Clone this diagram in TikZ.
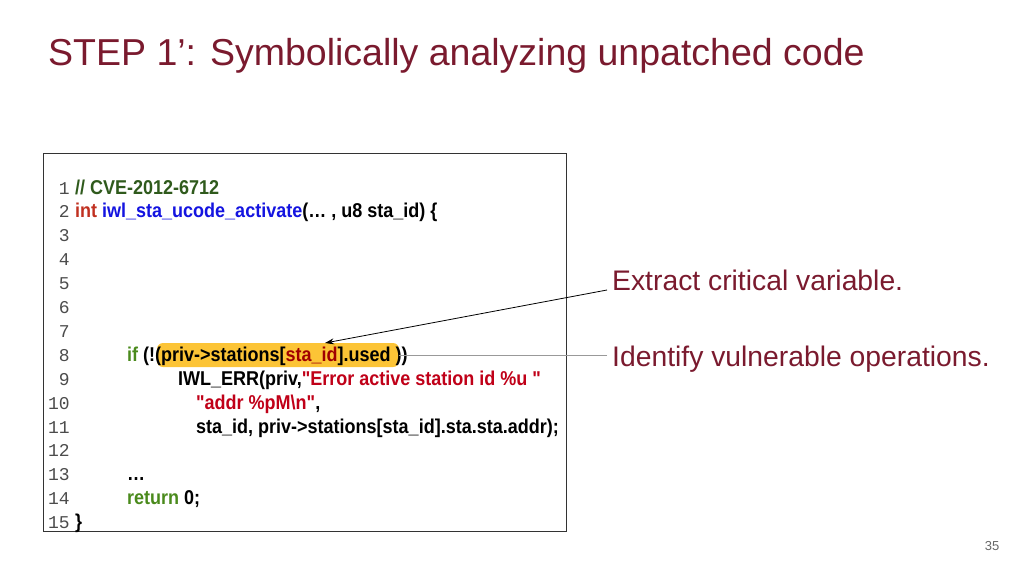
\documentclass[tikz,border=0pt]{standalone}
\usepackage{fontspec}
\usetikzlibrary{arrows.meta}
\setmainfont{Liberation Sans}
\newfontfamily\codefont[FakeStretch=0.9]{Liberation Sans Bold}
\newfontfamily\numfont{Liberation Mono}
\definecolor{titlered}{HTML}{7A1A2E}
\definecolor{cmtgreen}{HTML}{2F5A1C}
\definecolor{kwgreen}{HTML}{4A8A1C}
\definecolor{kwred}{HTML}{C03020}
\definecolor{fnblue}{HTML}{1414E0}
\definecolor{strred}{HTML}{C00018}
\definecolor{idred}{HTML}{A00000}
\definecolor{hl}{HTML}{FCC436}
\begin{document}
\begin{tikzpicture}[x=1pt,y=-1pt,
  code/.style={anchor=base west,inner sep=0pt,font=\codefont\fontsize{20}{20}\selectfont},
  num/.style={anchor=base east,inner sep=0pt,font=\numfont\fontsize{18}{18}\selectfont,text=black!70},
  lab/.style={anchor=base west,inner sep=0pt,text=titlered,font=\fontsize{28.3}{28.3}\selectfont}]
\useasboundingbox (0,0) rectangle (1024,576);
\node[anchor=base west,inner sep=0,text=titlered,font=\fontsize{37.5}{37.5}\selectfont] (title) at (48,65) {STEP 1’: Symbolically analyzing unpatched code};
\draw[black!80,line width=0.8pt] (43,153) rectangle (566,531);
\fill[hl,rounded corners=6pt] (157,343) rectangle (399,367);
\foreach \i in {1,...,15}{\node[num] (n\i) at (70,{194+23.9*(\i-1)}) {\i};}
\node[code] (l1) at (75,194) {\textcolor{cmtgreen}{// CVE-2012-6712}};
\node[code] (l2) at (75,217.9) {\textcolor{kwred}{int} \textcolor{fnblue}{iwl\_sta\_ucode\_activate}(\dots\ , u8 sta\_id) \{};
\node[code] (l8) at (127,361.3) {\textcolor{kwgreen}{if} (!(priv->stations[\textcolor{idred}{sta\_id}].used ))};
\node[code] (l9) at (178,385.2) {IWL\_ERR(priv,\textcolor{strred}{"Error active station id \%u "}};
\node[code] (l10) at (196,409.1) {\textcolor{strred}{"addr \%pM\textbackslash n"},};
\node[code] (l11) at (196,433) {sta\_id, priv->stations[sta\_id].sta.sta.addr);};
\node[code] (l13) at (127,480.8) {\dots};
\node[code] (l14) at (127,504.7) {\textcolor{kwgreen}{return} 0;};
\node[code] (l15) at (75,528.6) {\}};
\node[lab] (ex) at (612,290) {Extract critical variable.};
\node[lab] (id) at (612,366) {Identify vulnerable operations.};
\coordinate (sid) at (325,343);
\coordinate (used) at (399,355);
\draw[-{Stealth[length=9pt,width=6pt]},black,line width=0.8pt] (607,290) -- (sid);
\draw[black!40,line width=0.8pt] (607,355) -- (used);
\node[anchor=base,inner sep=0,text=black!60,font=\fontsize{13}{13}\selectfont] (pg) at (992,550) {35};
\end{tikzpicture}
\end{document}
